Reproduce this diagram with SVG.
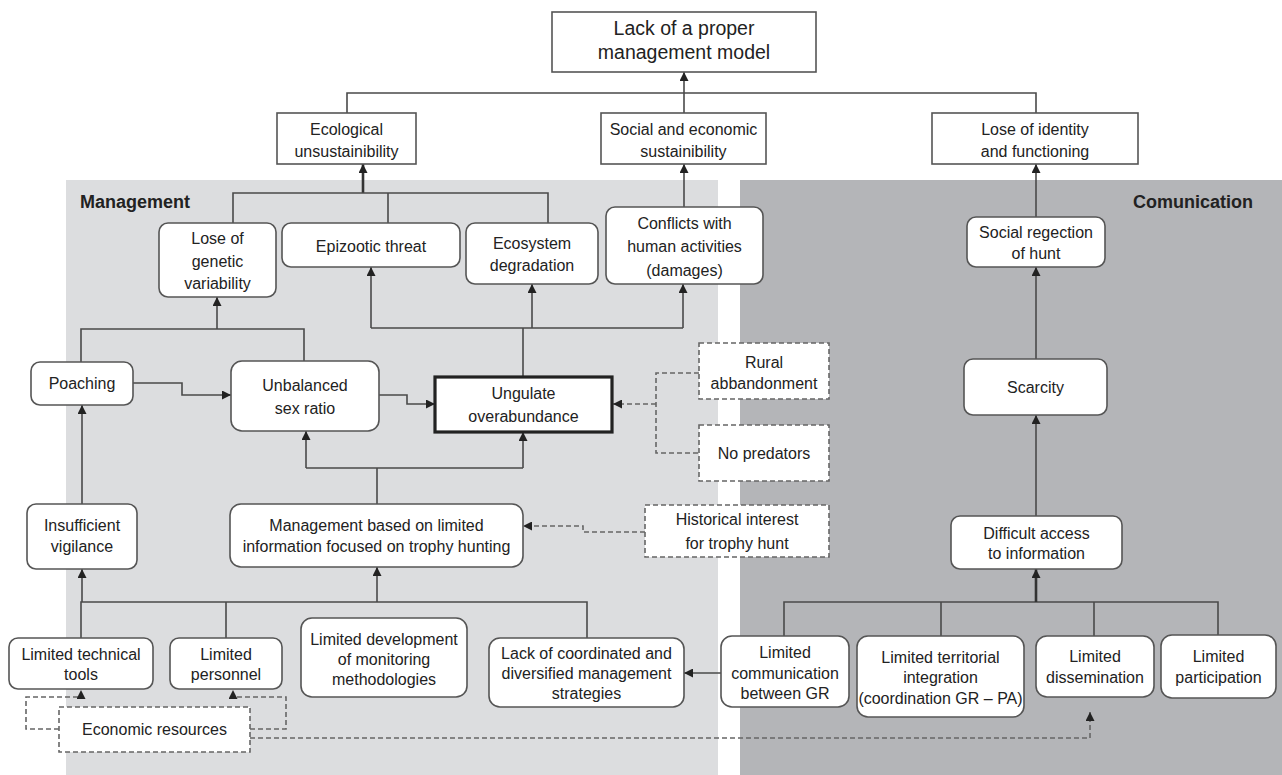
<svg xmlns="http://www.w3.org/2000/svg" width="1282" height="775" viewBox="0 0 1282 775">
<style>
text{font-family:"Liberation Sans",Arial,sans-serif;font-size:16px;fill:#222;text-anchor:middle}
.big{font-size:19.5px}
.lbl{font-weight:bold;font-size:18px;text-anchor:start}
.sq{fill:#fff;stroke:#555;stroke-width:1.6}
.rd{fill:#fff;stroke:#555;stroke-width:1.6}
.ds{fill:#fff;stroke:#666;stroke-width:1.6;stroke-dasharray:5 3}
.bold{fill:#fff;stroke:#222;stroke-width:3.2}
.c{fill:none;stroke:#4a4a4a;stroke-width:1.6}
.cb{fill:none;stroke:#333;stroke-width:2.6}
.cd{fill:none;stroke:#666;stroke-width:1.6;stroke-dasharray:5 3}
</style>
<defs>
<marker id="ah" viewBox="0 0 10 10" refX="10" refY="5" markerWidth="10" markerHeight="9" markerUnits="userSpaceOnUse" orient="auto"><path d="M0,0 L10,5 L0,10 z" fill="#222"/></marker>
</defs>
<rect width="1282" height="775" fill="#fff"/>
<rect x="66" y="180" width="652" height="595" fill="#dcdddf"/>
<rect x="740" y="180" width="542" height="595" fill="#b4b5b8"/>
<text class="lbl" x="80" y="208">Management</text>
<text class="lbl" x="1253" y="208" style="text-anchor:end">Comunication</text>

<g id="connectors">
<path class="c" d="M684,113 V72" marker-end="url(#ah)"/>
<path class="c" d="M347,113 V93 H1036 V113"/>
<path class="cb" d="M363,193 V164" marker-end="url(#ah)"/>
<path class="c" d="M233,223 V193 H548 V223 M388,193 V223"/>
<path class="c" d="M684,207 V164" marker-end="url(#ah)"/>
<path class="c" d="M1036,217 V164" marker-end="url(#ah)"/>
<path class="c" d="M217,329 V297" marker-end="url(#ah)"/>
<path class="c" d="M81,362 V329 H304 V361"/>
<path class="c" d="M523,377 V328 M371,328 H683"/>
<path class="c" d="M371,328 V267" marker-end="url(#ah)"/>
<path class="c" d="M532,328 V284" marker-end="url(#ah)"/>
<path class="c" d="M683,328 V284" marker-end="url(#ah)"/>
<path class="c" d="M133,383 H182 V395 H231" marker-end="url(#ah)"/>
<path class="c" d="M379,395 H407 V404 H435" marker-end="url(#ah)"/>
<path class="cd" d="M699,373 H656 V453 H699"/>
<path class="cd" d="M656,404 H613" marker-end="url(#ah)"/>
<path class="c" d="M377,504 V468 M306,468 H523"/>
<path class="c" d="M306,468 V431" marker-end="url(#ah)"/>
<path class="c" d="M523,468 V432" marker-end="url(#ah)"/>
<path class="cd" d="M645,532 H583 V526 H523" marker-end="url(#ah)"/>
<path class="c" d="M82,504 V405" marker-end="url(#ah)"/>
<path class="c" d="M81,638 V602 H587 V638 M226,602 V638"/>
<path class="c" d="M82,602 V569" marker-end="url(#ah)"/>
<path class="c" d="M377,602 V567" marker-end="url(#ah)"/>
<path class="c" d="M721,673 H684" marker-end="url(#ah)"/>
<path class="c" d="M784,636 V602 H1218 V635 M941,602 V636 M1094,602 V636"/>
<path class="cb" d="M1036,602 V569" marker-end="url(#ah)"/>
<path class="c" d="M1036,516 V415" marker-end="url(#ah)"/>
<path class="c" d="M1036,359 V267" marker-end="url(#ah)"/>
<path class="cd" d="M59,729 H26 V697 H81 V690" marker-end="url(#ah)"/>
<path class="cd" d="M250,729 H286 V697 H233 V690" marker-end="url(#ah)"/>
<path class="cd" d="M250,738 H1090 V712" marker-end="url(#ah)"/>
</g>

<g id="n-top"><rect class="sq" x="552" y="12" width="264" height="60"/><text class="big" x="684" y="35">Lack of a proper</text><text class="big" x="684" y="59">management model</text></g>
<g id="n-ecol"><rect class="sq" x="277" y="113" width="139" height="51"/><text x="346.5" y="135">Ecological</text><text x="346.5" y="157">unsustainibility</text></g>
<g id="n-soc"><rect class="sq" x="601" y="113" width="165" height="51"/><text x="683.5" y="135">Social and economic</text><text x="683.5" y="157">sustainibility</text></g>
<g id="n-ident"><rect class="sq" x="932" y="113" width="206" height="51"/><text x="1035" y="135">Lose of identity</text><text x="1035" y="157">and functioning</text></g>
<g id="n-genetic"><rect class="rd" x="159" y="223" width="117" height="74" rx="9"/><text x="217.5" y="244">Lose of</text><text x="217.5" y="267">genetic</text><text x="217.5" y="289">variability</text></g>
<g id="n-epiz"><rect class="rd" x="282" y="223" width="178" height="44" rx="9"/><text x="371" y="252">Epizootic threat</text></g>
<g id="n-ecosys"><rect class="rd" x="466" y="223" width="132" height="61" rx="9"/><text x="532" y="249">Ecosystem</text><text x="532" y="271">degradation</text></g>
<g id="n-conf"><rect class="rd" x="606" y="207" width="157" height="77" rx="9"/><text x="684.5" y="229">Conflicts with</text><text x="684.5" y="252">human activities</text><text x="684.5" y="276">(damages)</text></g>
<g id="n-reject"><rect class="rd" x="967" y="217" width="138" height="50" rx="9"/><text x="1036" y="238">Social regection</text><text x="1036" y="259">of hunt</text></g>
<g id="n-poach"><rect class="rd" x="31" y="362" width="102" height="43" rx="9"/><text x="82" y="389">Poaching</text></g>
<g id="n-unbal"><rect class="rd" x="231" y="361" width="148" height="70" rx="11"/><text x="305" y="391">Unbalanced</text><text x="305" y="414">sex ratio</text></g>
<g id="n-ungul"><rect class="bold" x="435" y="377" width="177" height="55"/><text x="523.5" y="399">Ungulate</text><text x="523.5" y="422">overabundance</text></g>
<g id="n-rural"><rect class="ds" x="699" y="343" width="130" height="56"/><text x="764" y="368">Rural</text><text x="764" y="389">abbandonment</text></g>
<g id="n-pred"><rect class="ds" x="699" y="425" width="130" height="56"/><text x="764" y="459">No predators</text></g>
<g id="n-scarc"><rect class="rd" x="964" y="359" width="143" height="56" rx="9"/><text x="1035.5" y="393">Scarcity</text></g>
<g id="n-vigil"><rect class="rd" x="27" y="504" width="110" height="65" rx="9"/><text x="82" y="531">Insufficient</text><text x="82" y="552">vigilance</text></g>
<g id="n-mgmt"><rect class="rd" x="230" y="504" width="293" height="63" rx="11"/><text x="376.5" y="531">Management based on limited</text><text x="376.5" y="552">information focused on trophy hunting</text></g>
<g id="n-hist"><rect class="ds" x="645" y="505" width="184" height="52"/><text x="737" y="525">Historical interest</text><text x="737" y="549">for trophy hunt</text></g>
<g id="n-diff"><rect class="rd" x="951" y="516" width="171" height="53" rx="9"/><text x="1036.5" y="539">Difficult access</text><text x="1036.5" y="559">to information</text></g>
<g id="n-tools"><rect class="rd" x="9" y="638" width="144" height="51" rx="9"/><text x="81" y="660">Limited technical</text><text x="81" y="680">tools</text></g>
<g id="n-pers"><rect class="rd" x="170" y="638" width="112" height="51" rx="9"/><text x="226" y="660">Limited</text><text x="226" y="680">personnel</text></g>
<g id="n-dev"><rect class="rd" x="301" y="618" width="166" height="79" rx="11"/><text x="384" y="645">Limited development</text><text x="384" y="665">of monitoring</text><text x="384" y="685">methodologies</text></g>
<g id="n-coord"><rect class="rd" x="489" y="638" width="195" height="69" rx="11"/><text x="586.5" y="659">Lack of coordinated and</text><text x="586.5" y="679">diversified management</text><text x="586.5" y="699">strategies</text></g>
<g id="n-comm"><rect class="rd" x="721" y="636" width="128" height="71" rx="11"/><text x="785" y="658">Limited</text><text x="785" y="679">communication</text><text x="785" y="699">between GR</text></g>
<g id="n-terr"><rect class="rd" x="857" y="636" width="167" height="81" rx="11"/><text x="940.5" y="663">Limited territorial</text><text x="940.5" y="683">integration</text><text x="940.5" y="704">(coordination GR – PA)</text></g>
<g id="n-diss"><rect class="rd" x="1036" y="636" width="118" height="61" rx="11"/><text x="1095" y="662">Limited</text><text x="1095" y="683">dissemination</text></g>
<g id="n-part"><rect class="rd" x="1161" y="635" width="115" height="63" rx="11"/><text x="1218.5" y="662">Limited</text><text x="1218.5" y="683">participation</text></g>
<g id="n-econ"><rect class="ds" x="59" y="707" width="191" height="45"/><text x="154.5" y="735">Economic resources</text></g>
</svg>
